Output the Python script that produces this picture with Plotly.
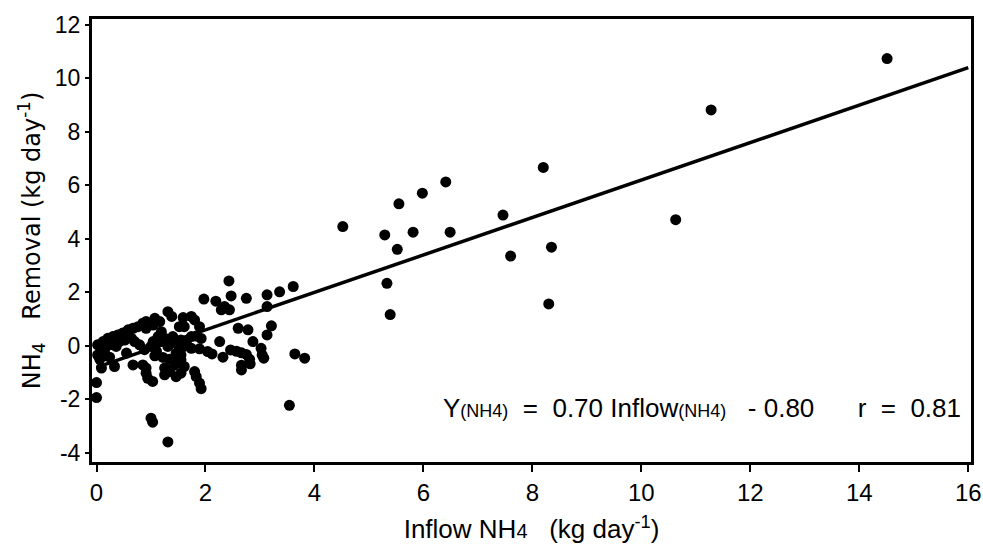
import plotly.graph_objects as go

# Inflow NH4 (kg/day) and NH4 removal (kg/day)
inflow = [14.51, 11.28, 10.63, 8.20, 8.35, 8.30, 7.60, 7.46, 6.41, 6.49, 5.98, 5.81, 5.55, 5.52, 5.29, 5.33, 5.39, 4.52,
          2.43, 3.61, 3.36, 3.13, 3.13, 2.75, 2.47, 1.97, 2.19, 2.35, 2.44, 2.29, 3.64, 3.82, 3.54, 1.00, 1.03, 1.31, 0.0, 0.0,
          3.21, 3.13, 2.78, 2.60, 2.26, 2.46, 2.57, 2.66, 2.75, 2.81, 2.82, 2.66, 2.66, 2.32, 2.87, 3.02, 3.04, 3.07,
          1.74, 1.80, 1.59, 1.89, 1.61, 1.31, 1.38, 1.52, 1.83, 1.92, 1.74,
          1.74, 1.89, 2.04, 2.12, 1.55, 1.46,
          1.80, 1.83, 1.89, 1.92,
          1.55, 1.61, 1.55, 1.46, 1.43,
          1.25, 1.34, 1.25, 1.03, 0.94, 0.91, 0.91, 0.85, 0.67, 0.55, 0.33, 0.09, 0.06, 0.15, 0.24,
          0.02, 0.12, 0.21, 0.30, 0.39, 0.48, 0.58, 0.67, 0.76, 0.85, 0.91, 1.07, 1.19, 1.13, 1.19, 1.04, 1.00, 1.10,
          0.88, 0.79, 0.70, 0.64, 0.36, 0.24, 0.15, 0.02, 0.42, 0.52, 1.31, 1.34, 1.40, 1.25, 1.07, 1.22, 1.34, 1.43,
          1.55, 1.49, 1.65, 1.61, 1.16, 1.04, 0.91]
removal = [10.74, 8.82, 4.72, 6.67, 3.69, 1.57, 3.36, 4.89, 6.13, 4.25, 5.71, 4.25, 5.31, 3.61, 4.15, 2.34, 1.17, 4.46,
           2.43, 2.22, 2.02, 1.91, 1.47, 1.78, 1.87, 1.75, 1.67, 1.47, 1.35, 1.35, -0.30, -0.46, -2.22, -2.70, -2.85, -3.59, -1.37, -1.93,
           0.75, 0.41, 0.60, 0.66, 0.16, -0.15, -0.20, -0.26, -0.32, -0.50, -0.67, -0.90, -0.72, -0.42, 0.16, -0.09, -0.34, -0.46,
           1.10, 0.97, 1.06, 0.72, 0.72, 1.28, 1.10, 0.72, 0.37, 0.28, 0.35,
           -0.09, -0.11, -0.21, -0.30, -0.34, -0.28,
           -0.96, -1.15, -1.39, -1.60,
           -0.52, -0.77, -1.02, -1.15, -0.72,
           -0.83, -0.96, -1.08, -1.33, -1.21, -1.02, -0.83, -0.71, -0.71, -0.27, -0.77, -0.83, -0.50, -0.37, -0.42,
           0.04, 0.16, 0.29, 0.35, 0.41, 0.48, 0.60, 0.66, 0.72, 0.85, 0.91, 1.03, 0.53, 0.35, 0.16, 0.16, -0.02, -0.20,
           -0.14, 0.04, 0.16, 0.29, -0.02, 0.04, -0.14, -0.34, 0.16, 0.22, -0.02, 0.16, 0.35, 0.29, -0.37, -0.43, -0.50, -0.56,
           0.22, 0.04, 0.16, -0.02, 0.91, 0.78, 0.66]

slope = 0.70
intercept = -0.80
fit_x = [0, 16]
fit_y = [slope * v + intercept for v in fit_x]

x_ticks = [0, 2, 4, 6, 8, 10, 12, 14, 16]
y_ticks = [-4, -2, 0, 2, 4, 6, 8, 10, 12]

FONT = "Liberation Sans, Arial, sans-serif"
WIDE = "DejaVu Sans, Verdana, sans-serif"

fig = go.Figure()
fig.add_trace(go.Scatter(x=fit_x, y=fit_y, mode="lines",
                         line=dict(color="black", width=3.5), showlegend=False, hoverinfo="skip"))
fig.add_trace(go.Scatter(x=inflow, y=removal, mode="markers",
                         marker=dict(color="black", size=11, line=dict(width=0)), showlegend=False))

fig.add_annotation(
    x=15.9, y=-2.32, xref="x", yref="y", xanchor="right", yanchor="middle", showarrow=False,
    text="Y<span style='font-size:18px'>(NH4)</span>&nbsp; = &nbsp;0.70 Inflow<span style='font-size:18px'>(NH4)</span>&nbsp;&nbsp; - 0.80&nbsp;&nbsp;&nbsp;&nbsp;&nbsp; r &nbsp;= &nbsp;0.81",
    font=dict(family=FONT, size=26, color="black"))

fig.update_xaxes(range=[-0.083, 16.05], tickvals=x_ticks, ticktext=[str(v) for v in x_ticks],
                 showline=True, linewidth=3, linecolor="black", mirror=True,
                 ticks="outside", ticklen=7, tickwidth=2, tickcolor="black",
                 showgrid=False, zeroline=False, automargin=False,
                 tickfont=dict(family=FONT, size=24, color="black"),
                 title=dict(text="Inflow NH<span style='font-size:20px'>4</span>&nbsp;&nbsp; (kg day<sup>-1</sup>)",
                            font=dict(family=FONT, size=26, color="black"), standoff=16))
fig.update_yaxes(range=[-4.34, 12.22], tickvals=y_ticks, ticktext=[str(v) for v in y_ticks],
                 showline=True, linewidth=3, linecolor="black", mirror=True,
                 ticks="outside", ticklen=4, tickwidth=2, tickcolor="black",
                 showgrid=False, zeroline=False, automargin=False,
                 tickfont=dict(family=FONT, size=23, color="black"),
                 title=dict(text="NH<sub>4</sub>&nbsp;&nbsp; Removal (kg day<sup>-1</sup>)",
                            font=dict(family=WIDE, size=24, color="black"), standoff=8))

fig.update_layout(width=983, height=545, margin=dict(l=92, r=12, t=19, b=83),
                  plot_bgcolor="white", paper_bgcolor="white")
fig.write_html("out.html")
